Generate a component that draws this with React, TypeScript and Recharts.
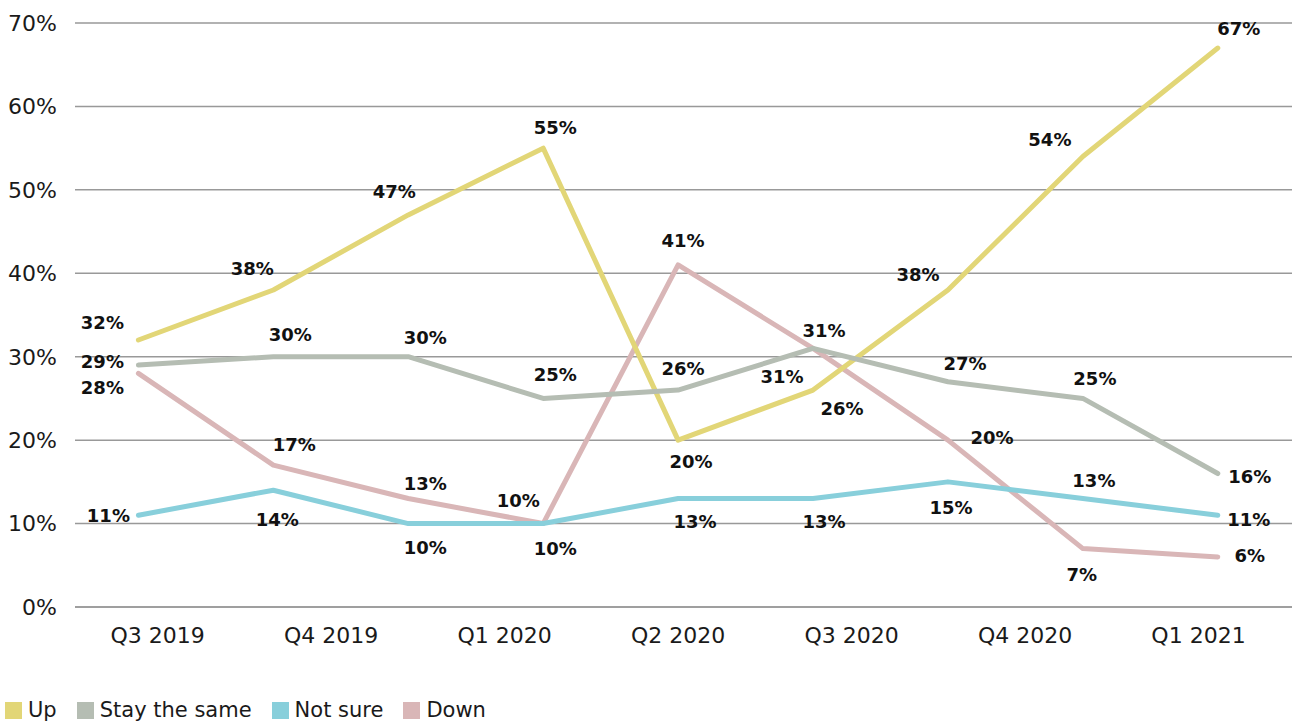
import { LineChart, Line, XAxis, YAxis, CartesianGrid, Legend, LabelList } from "recharts";

const FONT = "'DejaVu Sans', sans-serif";

// quarter names along the bottom axis
const QUARTERS = ["Q3 2019", "Q4 2019", "Q1 2020", "Q2 2020", "Q3 2020", "Q4 2020", "Q1 2021"];

// share of answers per survey wave, in percent
const UP = [32, 38, 47, 55, 20, 26, 38, 54, 67];
const STAY_THE_SAME = [29, 30, 30, 25, 26, 31, 27, 25, 16];
const NOT_SURE = [11, 14, 10, 10, 13, 13, 15, 13, 11];
const DOWN = [28, 17, 13, 10, 41, 31, 20, 7, 6];

const Y_TICKS = [0, 10, 20, 30, 40, 50, 60, 70];

const data = UP.map((up, i) => ({
  wave: i,
  up,
  stay: STAY_THE_SAME[i],
  notSure: NOT_SURE[i],
  down: DOWN[i],
}));

// quarter labels spread evenly over the same span as the waves
const waveCount = UP.length;
const quarterTicks = QUARTERS.map((_, i) => -0.5 + ((i + 0.5) * waveCount) / QUARTERS.length);
const quarterName = (v: number) =>
  QUARTERS[Math.round(((v + 0.5) * QUARTERS.length) / waveCount - 0.5)] ?? "";

// where each value label sits relative to its point (px)
type Offsets = [number, number][];
const series: { key: string; name: string; color: string; offsets: Offsets }[] = [
  {
    key: "up",
    name: "Up",
    color: "#e2d677",
    offsets: [[-36, -17], [-21, -21], [-14, -23], [12, -20], [13, 22], [29, 19], [-30, -15], [-33, -17], [21, -19]],
  },
  {
    key: "stay",
    name: "Stay the same",
    color: "#b5bdb3",
    offsets: [[-36, -3], [17, -22], [17, -19], [12, -24], [5, -21], [11, -18], [17, -18], [12, -20], [32, 3]],
  },
  {
    key: "notSure",
    name: "Not sure",
    color: "#88cfdb",
    offsets: [[-30, 0], [4, 29], [17, 24], [12, 25], [17, 23], [11, 23], [3, 26], [11, -18], [31, 4]],
  },
  {
    key: "down",
    name: "Down",
    color: "#d9b6b7",
    offsets: [[-36, 14], [21, -20], [17, -15], [-25, -23], [5, -24], [-31, 28], [44, -2], [-1, 26], [32, -1]],
  },
];

// paint order: bottom line first
const drawOrder = ["down", "up", "stay", "notSure"];

const valueLabel = (offsets: Offsets) => (props: any) => {
  const { x, y, value, index } = props;
  const [dx, dy] = offsets[index] ?? [0, -18];
  return (
    <text
      x={x + dx}
      y={y + dy}
      dy="0.35em"
      textAnchor="middle"
      fontFamily={FONT}
      fontWeight="bold"
      fontSize={18}
      fill="#111"
    >
      {value}%
    </text>
  );
};

const renderLegend = () => (
  <div
    style={{
      display: "flex",
      alignItems: "center",
      height: 24,
      fontFamily: FONT,
      fontSize: 21,
      color: "#1a1a1a",
      whiteSpace: "nowrap",
    }}
  >
    {series.map((s) => (
      <div key={s.key} style={{ display: "flex", alignItems: "center", marginRight: 20 }}>
        <span style={{ width: 17, height: 17, background: s.color, marginRight: 6 }} />
        <span>{s.name}</span>
      </div>
    ))}
  </div>
);

export default function App() {
  return (
    <div style={{ position: "absolute", left: 0, top: 0, width: 1297, height: 728, background: "#fff" }}>
      <LineChart width={1297} height={728} data={data} margin={{ top: 23, right: 5, bottom: 67, left: 0 }}>
        <CartesianGrid vertical={false} stroke="#999" strokeWidth={1.5} />
        <XAxis
          dataKey="wave"
          type="number"
          domain={[-0.47, 8.55]}
          ticks={quarterTicks}
          tickFormatter={quarterName}
          height={30}
          axisLine={{ stroke: "#999", strokeWidth: 1.5 }}
          tickLine={false}
          tickSize={0}
          tickMargin={20}
          tick={{ fontFamily: FONT, fontSize: 22, fill: "#1a1a1a" }}
        />
        <YAxis
          domain={[0, 70]}
          ticks={Y_TICKS}
          tickFormatter={(v: number) => `${v}%`}
          width={75}
          axisLine={false}
          tickLine={false}
          tickSize={0}
          tickMargin={18}
          tick={{ fontFamily: FONT, fontSize: 22, fill: "#1a1a1a" }}
        />
        <Legend
          content={renderLegend}
          wrapperStyle={{ left: 5, top: 698, bottom: "auto", width: "auto" }}
        />
        {drawOrder.map((key) => {
          const s = series.find((d) => d.key === key)!;
          return (
            <Line
              key={s.key}
              dataKey={s.key}
              name={s.name}
              stroke={s.color}
              strokeWidth={5}
              strokeLinecap="round"
              strokeLinejoin="round"
              dot={false}
              activeDot={false}
              isAnimationActive={false}
            >
              <LabelList dataKey={s.key} content={valueLabel(s.offsets)} />
            </Line>
          );
        })}
      </LineChart>
    </div>
  );
}
